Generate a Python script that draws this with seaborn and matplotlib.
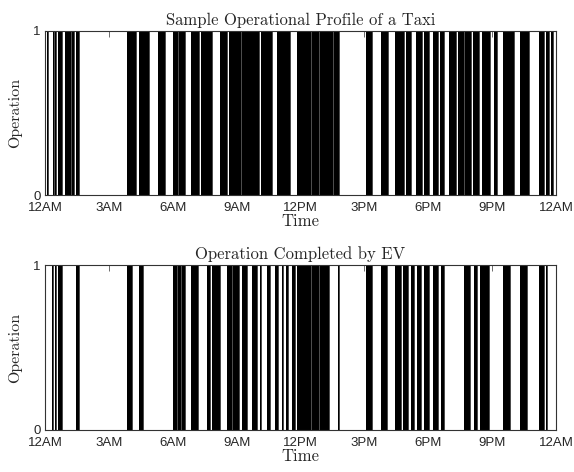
import numpy as np
import pandas as pd
import seaborn as sns
import matplotlib.pyplot as plt

# Operating intervals of the taxi over one day (start hour, end hour)
taxi_start = [0.11, 0.36, 0.47, 0.62, 0.93, 1.28, 1.45,
              3.86, 4.43, 5.33, 5.99, 6.28, 6.84, 7.31, 7.63, 8.24, 8.63, 8.98, 9.23,
              10.16, 10.89, 11.82, 12.52, 12.91, 13.58,
              15.08, 15.78, 16.45, 16.95, 17.42, 17.81, 18.23, 18.56, 18.98, 19.38,
              19.73, 20.08, 20.52, 21.09, 21.53, 22.31, 23.20, 23.52, 23.78]
taxi_end = [0.14, 0.42, 0.54, 0.81, 1.21, 1.37, 1.59,
            4.28, 4.87, 5.65, 6.25, 6.56, 7.23, 7.60, 7.85, 8.55, 8.95, 9.20, 10.03,
            10.65, 11.51, 12.48, 12.87, 13.54, 13.83,
            15.34, 16.09, 16.84, 17.19, 17.69, 18.05, 18.44, 18.75, 19.30, 19.69,
            20.00, 20.39, 20.91, 21.22, 22.03, 22.73, 23.44, 23.67, 23.87]

# Operation that the EV could complete
ev_start = [0.31, 0.47, 0.62, 1.45, 3.86, 4.43, 5.99, 6.24, 6.43, 6.84, 7.62, 7.82,
            8.55, 8.83, 9.25, 9.72, 10.11, 10.42, 10.81, 11.12, 11.31, 11.59,
            11.82, 12.52, 12.91, 13.75,
            15.08, 15.78, 16.45, 16.80, 17.19, 17.47, 17.81, 18.20, 18.59,
            19.69, 20.16, 20.44, 21.53, 22.31, 23.20, 23.52]
ev_end = [0.39, 0.54, 0.81, 1.59, 4.09, 4.62, 6.20, 6.40, 6.56, 7.20, 7.73, 8.24,
          8.80, 9.10, 9.49, 9.95, 10.16, 10.58, 10.93, 11.20, 11.43, 11.74,
          12.48, 12.87, 13.36, 13.83,
          15.34, 16.06, 16.72, 17.03, 17.34, 17.66, 18.02, 18.44, 18.75,
          19.97, 20.31, 20.86, 21.84, 22.66, 23.44, 23.56]

hour_ticks = [0, 3, 6, 9, 12, 15, 18, 21, 24]
hour_labels = ['12AM', '3AM', '6AM', '9AM', '12PM', '3PM', '6PM', '9PM', '12AM']


def to_profile(starts, ends):
    # turn intervals into a 0/1 step profile
    t = [0.0]
    op = [0]
    for s, e in zip(starts, ends):
        t += [s, e]
        op += [1, 0]
    t.append(24.0)
    op.append(0)
    return pd.DataFrame({'Time': t, 'Operation': op})


sns.set_style('white')
plt.rcParams['font.family'] = ['Liberation Sans', 'DejaVu Sans']

fig = plt.figure(figsize=(5.74, 4.72), dpi=100)
ax1 = fig.add_axes([45 / 574, 1 - 195 / 472, 511 / 574, 164 / 472])
ax2 = fig.add_axes([45 / 574, 1 - 430 / 472, 511 / 574, 165 / 472])

panels = [(ax1, to_profile(taxi_start, taxi_end), 'Sample Operational Profile of a Taxi'),
          (ax2, to_profile(ev_start, ev_end), 'Operation Completed by EV')]

for ax, df, title in panels:
    sns.lineplot(data=df, x='Time', y='Operation', drawstyle='steps-post',
                 color='black', lw=0.5, estimator=None, ax=ax)
    ax.fill_between(df['Time'], df['Operation'], step='post', color='black', lw=0)
    ax.set_xlim(0, 24)
    ax.set_ylim(0, 1)
    ax.set_xticks(hour_ticks)
    ax.set_xticklabels(hour_labels, fontsize=9.5)
    ax.set_yticks([0, 1])
    ax.set_yticklabels(['0', '1'], fontsize=9.5)
    ax.tick_params(direction='in', length=4, width=0.6, color='#555555',
                   top=True, right=True)
    ax.tick_params(axis='x', pad=5)
    ax.tick_params(axis='y', pad=3)
    for sp in ax.spines.values():
        sp.set_visible(True)
        sp.set_color('#333333')
        sp.set_linewidth(0.8)
    ax.set_title(title, fontfamily='cmr10', fontsize=12, pad=4)
    ax.set_xlabel('Time', fontfamily='cmr10', fontsize=12, labelpad=0)
    ax.set_ylabel('Operation', fontfamily='cmr10', fontsize=11.5, labelpad=8)

fig.savefig('out.png', dpi=100)
